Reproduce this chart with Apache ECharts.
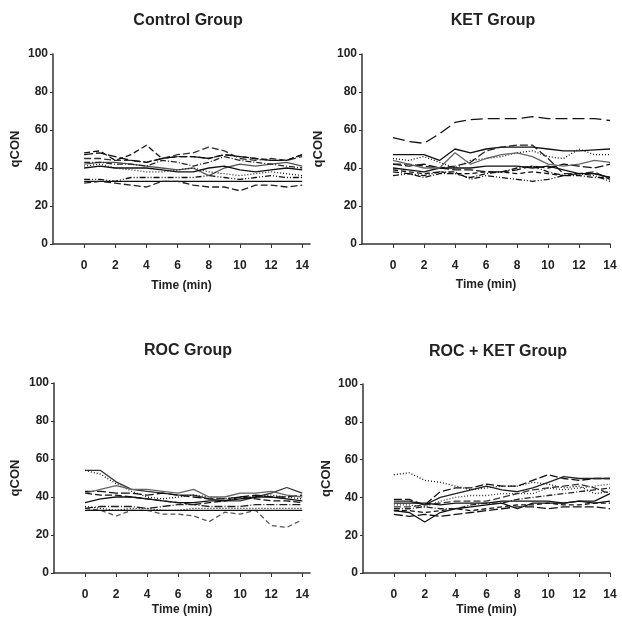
<!DOCTYPE html>
<html><head><meta charset="utf-8">
<script src="https://cdn.jsdelivr.net/npm/echarts@6/dist/echarts.min.js"></script>
<style>html,body{margin:0;padding:0;background:#fff}#c{width:622px;height:619px}</style>
</head><body><div id="c"></div>
<script>
// ---- data ----
const times = [0,1,2,3,4,5,6,7,8,9,10,11,12,13,14];
const xTicks = [0,2,4,6,8,10,12,14];
const yTicks = [0,20,40,60,80,100];
const panelTitles = ["Control Group","KET Group","ROC Group","ROC + KET Group"];
const xName = "Time (min)";
const yName = "qCON";

const control = [
  [48,49,44,47,52,45,46,46,45,47,46,45,44,44,47],
  [45,45,44,44,43,45,47,48,51,49,45,44,45,44,46],
  [47,48,46,44,43,45,46,46,45,47,46,45,44,44,47],
  [42,43,43,42,41,40,39,40,36,40,42,41,42,43,41],
  [40,41,40,40,40,39,38,38,40,41,39,38,39,40,39],
  [41,42,40,39,38,38,39,40,38,37,36,37,38,37,36],
  [34,34,33,35,35,35,35,35,36,35,34,35,36,35,35],
  [33,33,33,33,33,33,33,33,33,33,33,33,33,33,33],
  [32,33,32,31,30,33,33,31,30,30,28,31,31,30,31],
  [43,43,42,42,41,44,43,41,43,46,44,43,42,41,40]
];
const ket = [
  [56,54,53,58,64,65.5,66,66,66,67,66,66,66,66,65],
  [47,47,47,44,50,48,50,51,51,51,50,49,49,49.5,50],
  [42,42,41,40,41,43,49,51,52,52,45,37,37,38,34],
  [45,44,46,43,40,44,45,46,48,49,46,45,50,47,47],
  [40,39,38,40,40,40,41,41,41,40,41,39,37,37,35],
  [38,37,35,37,37,35,37,38,40,41,38,36,36,35,35],
  [36,37,36,38,38,34,36,35,34,33,34,36,37,36,33],
  [39,38,37,38,37,37,38,38,37,38,37,36,37,37,35],
  [42,41,42,40,39,39,38,38,39,41,40,42,41,40,42],
  [44,42,40,40,48,42,45,47,48,46,42,41,42,44,43]
];
const roc = [
  [54,54,48,44,43,42,41,41,39,38,38,40,42,45,42],
  [54,52,47,43,40,39,40,41,40,39,40,40,41,40,39],
  [34,33,30,33,33,31,31,30,27,32,31,33,25,24,28],
  [33,33,33,33,33,33,33,33,33,33,33,33,33,33,33],
  [43,43,42,42,41,42,41,40,39,39,40,41,40,40,41],
  [37,39,40,40,39,38,37,37,38,38,39,40,40,39,38],
  [34,35,35,35,34,35,36,36,35,35,35,36,36,36,36],
  [42,41,41,40,39,38,37,36,37,38,40,39,38,38,37],
  [35,34,33,34,34,33,33,34,34,34,34,34,34,34,34],
  [42,44,46,44,44,43,42,44,40,40,42,42,43,41,40]
];
const rocKet = [
  [52,53,49,48,46,44,45,46,46,48,47,45,46,42,43],
  [39,39,36,43,45,45,47,46,46,49,52,50,49,50,50],
  [33,32,27,32,34,35,36,37,34,37,37,37,38,38,42],
  [38,38,36,40,42,44,46,44,43,45,48,51,50,50,50],
  [35,35,36,37,38,38,38,40,42,44,45,46,47,45,42],
  [33,33,32,33,34,33,34,35,36,36,37,36,36,37,37],
  [31,30,31,30,31,32,33,34,35,35,34,35,35,35,34],
  [37,37,37,36,37,37,37,38,38,38,38,37,38,37,38],
  [34,34,35,34,34,36,37,37,39,40,41,42,43,44,45],
  [36,36,35,38,40,41,41,42,42,42,45,44,45,46,47]
];
const groups = [control, ket, roc, rocKet];

// ---- layout / style ----
const styleSets = [
  // control
  [[[6,3],'#111'],[[7,3],'#333'],[[9,3],'#111'],['solid','#555'],['solid','#111'],[[1,2],'#222'],[[6,2,1,2,1,2],'#111'],['solid','#111'],[[7,3],'#222'],[[6,2,1,2],'#222']],
  // ket
  [[[12,5],'#111'],['solid','#111'],[[8,3],'#222'],[[1,2],'#111'],['solid','#111'],[[6,2,1,2],'#111'],[[6,2,1,2,1,2],'#111'],[[5,3],'#111'],[[9,3],'#111'],['solid','#666']],
  // roc
  [['solid','#333'],[[1,2],'#111'],[[5,3],'#555'],['solid','#111'],[[9,3],'#111'],['solid','#111'],[[8,2,1,2],'#222'],[[7,3],'#111'],[[1,2],'#111'],['solid','#666']],
  // roc+ket
  [[[1,2],'#111'],[[8,3],'#111'],['solid','#111'],['solid','#222'],[[7,3],'#333'],[[5,3],'#111'],[[9,3],'#111'],['solid','#111'],[[6,2,1,2],'#222'],[[1,2],'#333']]
];
const grids = [
  {left:53, top:54, width:257, height:190, xmax:14.5, titleX:183, titleY:8, yGap:31, xGap:36},
  {left:362, top:54, width:248, height:190, xmax:14, titleX:488, titleY:8, yGap:37, xGap:35},
  {left:54, top:383, width:256, height:190, xmax:14.5, titleX:183, titleY:338, yGap:32, xGap:31},
  {left:363, top:384, width:247, height:189, xmax:14, titleX:493, titleY:339, yGap:30, xGap:31}
];
const axisColor = '#333';
const txt = '#222';
const font = 'Liberation Sans, Arial, sans-serif';

const option = {
  animation:false,
  backgroundColor:'#fff',
  title: grids.map((g,i)=>({text:panelTitles[i], left:g.titleX, top:g.titleY, textAlign:'center',
    textStyle:{fontSize:16, fontWeight:'bold', color:txt, fontFamily:font}})),
  grid: grids.map(g=>({left:g.left, top:g.top, width:g.width, height:g.height, containLabel:false})),
  xAxis: grids.map((g,i)=>({
    type:'value', gridIndex:i, min:-2, max:g.xmax, interval:2,
    name:xName, nameLocation:'middle', nameGap:g.xGap,
    nameTextStyle:{fontSize:12, fontWeight:'bold', color:txt, fontFamily:font},
    axisLine:{show:true, onZero:false, lineStyle:{color:axisColor, width:1.5}},
    axisTick:{show:true, length:4, lineStyle:{color:axisColor}, customValues:xTicks},
    axisLabel:{fontSize:12, fontWeight:'bold', color:txt, fontFamily:font, margin:16, customValues:xTicks},
    splitLine:{show:false}
  })),
  yAxis: grids.map((g,i)=>({
    type:'value', gridIndex:i, min:0, max:100, interval:20,
    name:yName, nameLocation:'middle', nameGap:g.yGap, nameRotate:90,
    nameTextStyle:{fontSize:13, fontWeight:'bold', color:txt, fontFamily:font},
    axisLine:{show:true, onZero:false, lineStyle:{color:axisColor, width:1.5}},
    axisTick:{show:true, length:3, lineStyle:{color:axisColor}},
    axisLabel:{fontSize:12, fontWeight:'bold', color:txt, fontFamily:font, margin:5},
    splitLine:{show:false}
  })),
  series: []
};
groups.forEach((grp,gi)=>{
  grp.forEach((vals,si)=>{
    const st = styleSets[gi][si];
    option.series.push({
      type:'line', xAxisIndex:gi, yAxisIndex:gi, symbol:'none', silent:true,
      data: times.map((t,k)=>[t, vals[k]]),
      lineStyle:{width:1.3, color:st[1], type:st[0]}
    });
  });
});
const chart = echarts.init(document.getElementById('c'), null, {renderer:'canvas'});
chart.setOption(option);
</script></body></html>
